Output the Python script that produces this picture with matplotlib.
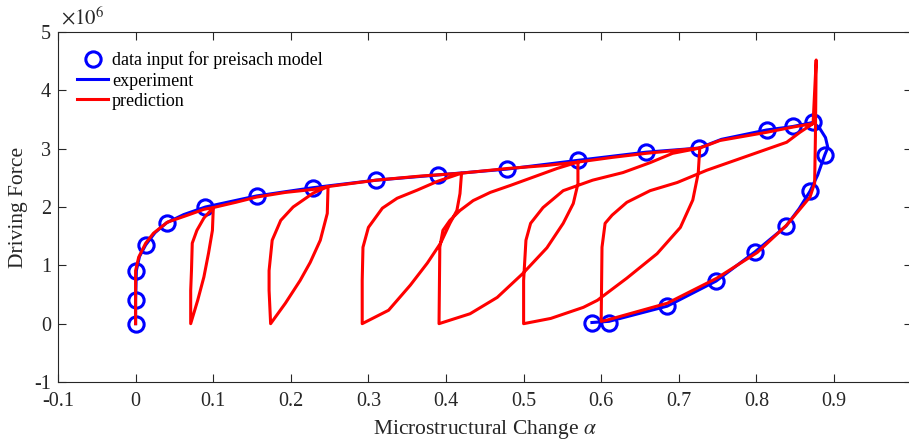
import matplotlib
matplotlib.use("Agg")
import matplotlib.pyplot as plt
import numpy as np

# preisach input points (alpha, driving force in 1e6)
alpha_in = [0, 0, 0.001, 0.013, 0.040, 0.090, 0.156, 0.228, 0.310, 0.390, 0.479,
            0.570, 0.658, 0.726, 0.813, 0.847, 0.873, 0.888, 0.869, 0.838, 0.798,
            0.748, 0.685, 0.610, 0.588]
force_in = [0, 0.41, 0.91, 1.35, 1.73, 2.00, 2.19, 2.33, 2.46, 2.55, 2.65,
            2.80, 2.94, 3.01, 3.32, 3.38, 3.45, 2.89, 2.27, 1.67, 1.23,
            0.73, 0.30, 0.02, 0.02]

# experiment
alpha_exp = [0, 0, 0.001, 0.005, 0.013, 0.025, 0.040, 0.062, 0.090, 0.156, 0.228,
             0.310, 0.390, 0.479, 0.570, 0.658, 0.726, 0.755, 0.813, 0.847, 0.873,
             0.881, 0.889, 0.892, 0.888, 0.879, 0.869, 0.855, 0.838, 0.798, 0.748,
             0.685, 0.610, 0.588]
force_exp = [0, 0.41, 0.91, 1.15, 1.35, 1.56, 1.73, 1.87, 2.00, 2.19, 2.33,
             2.46, 2.55, 2.65, 2.80, 2.94, 3.01, 3.16, 3.32, 3.38, 3.45,
             3.36, 3.19, 3.02, 2.89, 2.55, 2.27, 1.97, 1.67, 1.23, 0.73,
             0.30, 0.04, 0.02]

# prediction (major curve + minor loops)
alpha_pred = [
    0, 0, 0, 0.004, 0.013, 0.023, 0.041, 0.067, 0.088, 0.100,
    0.100, 0.099, 0.094, 0.088, 0.080, 0.071,
    0.071, 0.072, 0.073, 0.079, 0.088, 0.100,
    0.129, 0.156, 0.193, 0.228, 0.248,
    0.247, 0.238, 0.225, 0.212, 0.193, 0.174,
    0.172, 0.172, 0.176, 0.187, 0.203, 0.229, 0.248,
    0.310, 0.367, 0.420,
    0.418, 0.414, 0.405, 0.393, 0.376, 0.354, 0.326, 0.292,
    0.292, 0.293, 0.300, 0.318, 0.337, 0.363, 0.389, 0.420,
    0.479, 0.528, 0.570,
    0.570, 0.564, 0.551, 0.530, 0.499, 0.466, 0.431, 0.391,
    0.392, 0.396, 0.405, 0.418, 0.435, 0.457, 0.483, 0.512, 0.543, 0.570,
    0.614, 0.658, 0.727,
    0.725, 0.718, 0.702, 0.672, 0.633, 0.595, 0.577, 0.535, 0.500,
    0.500, 0.503, 0.509, 0.525, 0.551, 0.589, 0.628, 0.663, 0.692, 0.727,
    0.753, 0.813, 0.847, 0.873,
    0.877,
    0.876, 0.875, 0.869, 0.839, 0.801, 0.749, 0.685, 0.607, 0.600,
    0.600, 0.601, 0.605, 0.614, 0.633, 0.663, 0.698, 0.736, 0.779, 0.839, 0.856, 0.873,
]
force_pred = [
    0, 0.40, 0.91, 1.14, 1.38, 1.55, 1.74, 1.86, 1.96, 1.99,
    1.94, 1.60, 1.21, 0.80, 0.40, 0.0,
    0.57, 0.91, 1.38, 1.60, 1.81, 1.99,
    2.08, 2.17, 2.25, 2.30, 2.35,
    1.89, 1.43, 1.05, 0.74, 0.35, 0.0,
    0.57, 0.91, 1.43, 1.77, 2.00, 2.24, 2.35,
    2.46, 2.53, 2.58,
    2.23, 1.94, 1.72, 1.38, 1.04, 0.66, 0.23, 0.0,
    0.74, 1.31, 1.65, 1.98, 2.15, 2.29, 2.44, 2.58,
    2.66, 2.71, 2.77,
    2.40, 2.06, 1.72, 1.30, 0.86, 0.45, 0.17, 0.0,
    1.31, 1.60, 1.77, 1.94, 2.11, 2.25, 2.37, 2.51, 2.66, 2.77,
    2.85, 2.92, 3.01,
    2.58, 2.12, 1.65, 1.20, 0.78, 0.40, 0.28, 0.09, 0.0,
    0.74, 1.43, 1.72, 1.99, 2.28, 2.46, 2.59, 2.76, 2.92, 3.01,
    3.14, 3.28, 3.37, 3.43,
    4.52,
    3.20, 2.41, 2.17, 1.69, 1.22, 0.78, 0.35, 0.06, 0.04,
    0.11, 1.31, 1.72, 1.86, 2.08, 2.28, 2.42, 2.63, 2.83, 3.11, 3.28, 3.43,
]

x_ticks = [-0.1, 0, 0.1, 0.2, 0.3, 0.4, 0.5, 0.6, 0.7, 0.8, 0.9]
x_labels = ['-0.1', '0', '0.1', '0.2', '0.3', '0.4', '0.5', '0.6', '0.7', '0.8', '0.9']
y_ticks = [-1, 0, 1, 2, 3, 4, 5]
y_labels = ['-1', '0', '1', '2', '3', '4', '5']

plt.rcParams['font.family'] = ['Liberation Serif', 'DejaVu Serif']
plt.rcParams['mathtext.fontset'] = 'stix'
plt.rcParams['axes.unicode_minus'] = False

scale = 1e6
fig = plt.figure(figsize=(9.09, 4.40), dpi=100)
ax = fig.add_axes([0.0638, 0.1318, 0.9391, 0.7955])

ax.plot(alpha_in, np.array(force_in) * scale, 'o', ms=11, mfc='none', mec='#0000ff',
        mew=2.2, label='data input for preisach model', zorder=2)
ax.plot(alpha_exp, np.array(force_exp) * scale, color='#0000ff', lw=2.2,
        label='experiment', zorder=3)
ax.plot(alpha_pred, np.array(force_pred) * scale, color='#ff0000', lw=2.2,
        label='prediction', zorder=4)

ax.set_xlim(-0.1, 1.0)
ax.set_ylim(-1 * scale, 5 * scale)
ax.set_xticks(x_ticks)
ax.set_xticklabels(x_labels)
ax.set_yticks([v * scale for v in y_ticks])
ax.set_yticklabels(y_labels)
ax.text(0.004, 1.008, r'$\times10^{6}$', transform=ax.transAxes, fontsize=15,
        ha='left', va='bottom', color='#262626')

ax.tick_params(direction='in', top=True, right=True, length=6, width=0.8,
               labelsize=14.5, colors='#262626', pad=5)
ax.tick_params(axis='x', pad=7)
for s in ax.spines.values():
    s.set_linewidth(0.8)
    s.set_color('#262626')

ax.set_xlabel(r'Microstructural Change $\alpha$', fontsize=15.5, color='#262626', labelpad=5)
ax.set_ylabel('Driving Force', fontsize=15.5, color='#262626', labelpad=4.5)

ax.legend(loc='upper left', bbox_to_anchor=(0.022, 0.944), frameon=False,
          fontsize=13, handlelength=1.75, handletextpad=0.2, labelspacing=0.17,
          borderpad=0, borderaxespad=0)

fig.savefig('out.png', dpi=100)
